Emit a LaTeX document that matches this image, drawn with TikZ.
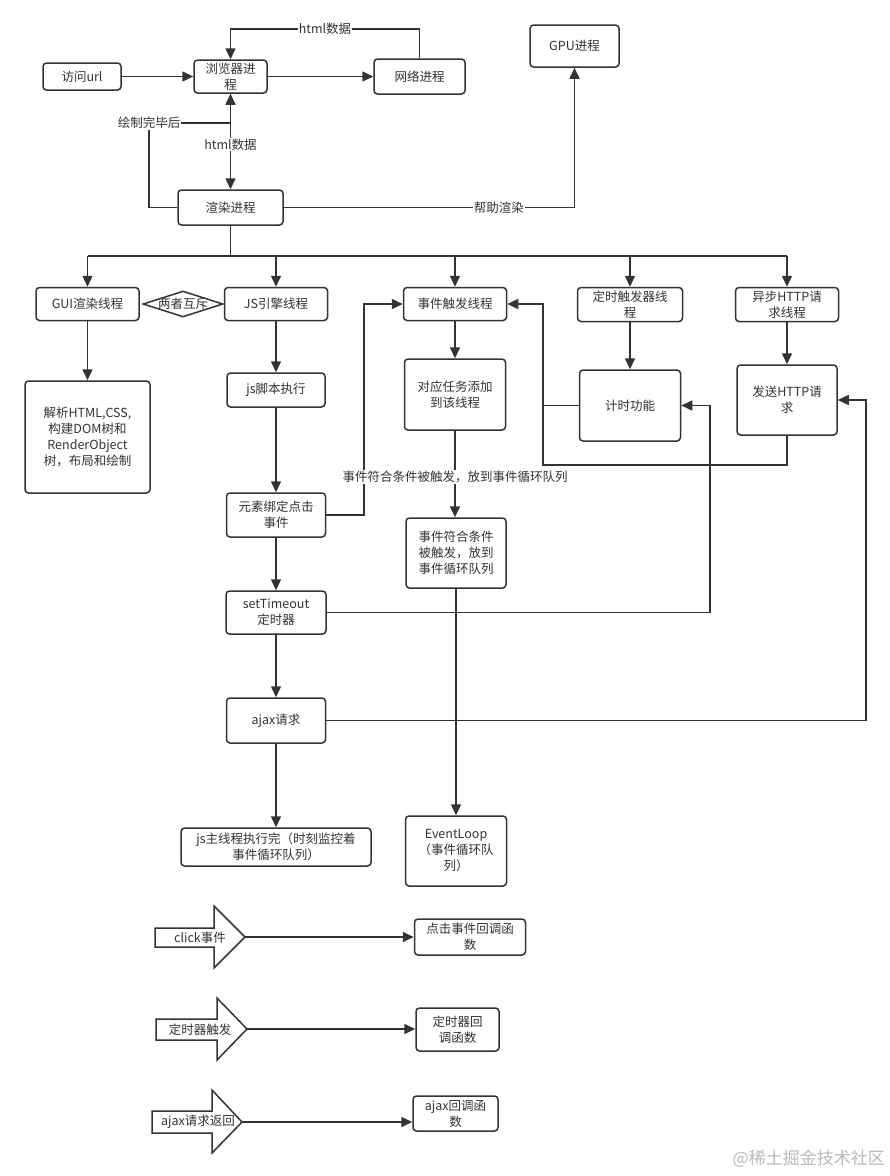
\documentclass[tikz,border=0pt]{standalone}
\usepackage{fontspec}
\setmainfont{Noto Sans CJK SC}
\usetikzlibrary{arrows.meta,shapes.geometric}
\definecolor{ln}{HTML}{333333}
\begin{document}
\begin{tikzpicture}[x=1pt,y=-1pt,
  font=\fontsize{12.5}{16}\selectfont,
  box/.style={draw=ln, line width=1.5pt, rounded corners=3.5pt, fill=white, text=ln, align=center, inner sep=0pt},
  arr/.style={draw=ln, line width=1.5pt, -{Triangle[length=11pt,width=10pt]}},
  conn/.style={draw=ln, line width=1.5pt},
  lab/.style={fill=white, text=ln, inner sep=1pt},
  bigarrow/.style={draw=ln, line width=1.5pt, fill=white, line join=miter},
]
\fill[white] (0,0) rectangle (890,1176);
\useasboundingbox (0,0) rectangle (890,1176);

% helper coordinates
\coordinate (ytop) at (0,29);
\coordinate (ydraw) at (0,123);
\coordinate (bus) at (0,256);
\coordinate (lx) at (364,0);
\coordinate (rx) at (543,0);
\coordinate (hb) at (0,465);
\coordinate (tx) at (710,0);
\coordinate (ax) at (866,0);

% top nodes
\node[box, minimum width=78pt, minimum height=27pt] (url) at (82,76.5) {访问url};
\node[box, minimum width=73pt, minimum height=33pt] (browser) at (230.5,76.5) {浏览器进\\程};
\node[box, minimum width=91pt, minimum height=35pt] (net) at (419.5,76.5) {网络进程};
\node[box, minimum width=89pt, minimum height=42pt] (gpu) at (574.5,46) {GPU进程};
\node[box, minimum width=105pt, minimum height=35pt] (render) at (230.5,207.5) {渲染进程};

% thread row
\node[box, minimum width=103pt, minimum height=33pt] (gui) at (87.5,304) {GUI渲染线程};
\node[draw=ln, line width=1.5pt, fill=white, text=ln, shape=diamond, inner sep=0pt, minimum width=80pt, minimum height=26pt] (mutex) at (183,304) {\makebox[0pt]{两者互斥}};
\node[box, minimum width=103pt, minimum height=33pt] (js) at (276,304) {JS引擎线程};
\node[box, minimum width=103pt, minimum height=33pt] (event) at (455,304) {事件触发线程};
\node[box, minimum width=105pt, minimum height=34pt] (timerth) at (630,304.5) {定时触发器线\\程};
\node[box, minimum width=103pt, minimum height=34pt] (httpth) at (787,304.5) {异步HTTP请\\求线程};

% second row
\node[box, minimum width=125pt, minimum height=112pt] (parse) at (87.5,437) {解析HTML,CSS,\\构建DOM树和\\RenderObject\\树，布局和绘制};
\node[box, minimum width=98pt, minimum height=34pt] (jsexec) at (276,390) {js脚本执行};
\node[box, minimum width=101pt, minimum height=71pt] (addtask) at (455,394.5) {对应任务添加\\到该线程};
\node[box, minimum width=101pt, minimum height=71pt] (timing) at (630,405.5) {计时功能};
\node[box, minimum width=100pt, minimum height=70pt] (send) at (787,400) {发送HTTP请\\求};

% js column
\node[box, minimum width=99pt, minimum height=44pt] (bind) at (276,515) {元素绑定点击\\事件};
\node[box, minimum width=100pt, minimum height=43pt] (settimeout) at (276,612.5) {setTimeout\\定时器};
\node[box, minimum width=99pt, minimum height=45pt] (ajax) at (276,720.5) {ajax请求};
\node[box, minimum width=190pt, minimum height=38pt] (jsmain) at (276,847) {js主线程执行完（时刻监控着\\事件循环队列）};

% event column
\node[box, minimum width=100pt, minimum height=70pt] (queue) at (456,553) {事件符合条件\\被触发，放到\\事件循环队列};
\node[box, minimum width=101pt, minimum height=70pt] (eventloop) at (456,851) {EventLoop\\（事件循环队\\列）};

% top connectors
\draw[arr] (url) -- (browser);
\draw[arr] (browser) -- (net);
\draw[arr] (net.north) -- (net.north |- ytop) -- node[lab]{html数据} (browser.north |- ytop) -- (browser.north);
\draw[arr] (browser.south) -- node[lab, pos=0.53]{html数据} (render.north);
\draw[arr] (render.west) -- (149,207.5) -- (149,123) node[lab]{绘制完毕后} -- (browser.south |- ydraw) -- (browser.south);
\draw[arr] (render.east) -- node[lab, pos=0.74]{帮助渲染} (gpu.south |- render.east) -- (gpu.south);

% bus
\draw[conn] (render.south) -- (render.south |- bus);
\draw[conn] (gui.north |- bus) -- (httpth.north |- bus);
\draw[arr] (gui.north |- bus) -- (gui.north);
\draw[arr] (js.north |- bus) -- (js.north);
\draw[arr] (event.north |- bus) -- (event.north);
\draw[arr] (timerth.north |- bus) -- (timerth.north);
\draw[arr] (httpth.north |- bus) -- (httpth.north);

% vertical arrows
\draw[arr] (gui.south) -- (parse.north);
\draw[arr] (js.south) -- (jsexec.north);
\draw[arr] (event.south) -- (addtask.north);
\draw[arr] (timerth.south) -- (timing.north);
\draw[arr] (httpth.south) -- (send.north);
\draw[arr] (jsexec.south) -- (bind.north);
\draw[arr] (bind.south) -- (settimeout.north);
\draw[arr] (settimeout.south) -- (ajax.north);
\draw[arr] (ajax.south) -- (jsmain.north);
\draw[arr] (queue.south) -- (eventloop.north);

% feedback connectors
\draw[arr] (bind.east) -| (lx |- event.west) -- (event.west);
\draw[arr] (timing.west) -- (timing.west -| rx) |- (event.east);
\draw[conn] (send.south) |- (rx |- hb) -- (rx |- timing.west);
\draw[arr] (settimeout.east) -| (tx |- timing.east) -- (timing.east);
\draw[arr] (ajax.east) -| (ax |- send.east) -- (send.east);

% labelled connector drawn last so its label covers lines
\draw[arr] (addtask.south) -- node[lab, pos=0.53]{事件符合条件被触发，放到事件循环队列} (addtask.south |- queue.north);

% bottom legend
\draw[bigarrow] (155,928) -- (214,928) -- (214,906) -- (245,937) -- (214,968) -- (214,947) -- (155,947) -- cycle;
\node[text=ln, inner sep=0pt] (clicklab) at (200,938) {click事件};
\coordinate (clicktip) at (245,937);
\node[box, minimum width=111pt, minimum height=36pt] (clickcb) at (470,937) {点击事件回调函\\数};
\draw[arr] (clicktip) -- (clickcb.west |- clicktip);

\draw[bigarrow] (156,1019) -- (217,1019) -- (217,998) -- (247,1029) -- (217,1060) -- (217,1040) -- (156,1040) -- cycle;
\node[text=ln, inner sep=0pt] (timerlab) at (200,1030) {定时器触发};
\coordinate (timertip) at (247,1029);
\node[box, minimum width=83pt, minimum height=43pt] (timercb) at (457.5,1029.5) {定时器回\\调函数};
\draw[arr] (timertip) -- (timercb.west |- timertip);

\draw[bigarrow] (152,1111) -- (212,1111) -- (212,1090) -- (242,1122) -- (212,1153) -- (212,1133) -- (152,1133) -- cycle;
\node[text=ln, inner sep=0pt] (ajaxlab) at (198,1122) {ajax请求返回};
\coordinate (ajaxtip) at (242,1122);
\node[box, minimum width=85pt, minimum height=35pt] (ajaxcb) at (455.5,1113.5) {ajax回调函\\数};
\draw[arr] (ajaxtip) -- (ajaxcb.west |- ajaxtip);

% watermark
\node[anchor=east, text=gray!55, inner sep=0pt, font=\fontsize{17}{20}\selectfont] (wm) at (885,1159) {@稀土掘金技术社区};
\end{tikzpicture}
\end{document}
